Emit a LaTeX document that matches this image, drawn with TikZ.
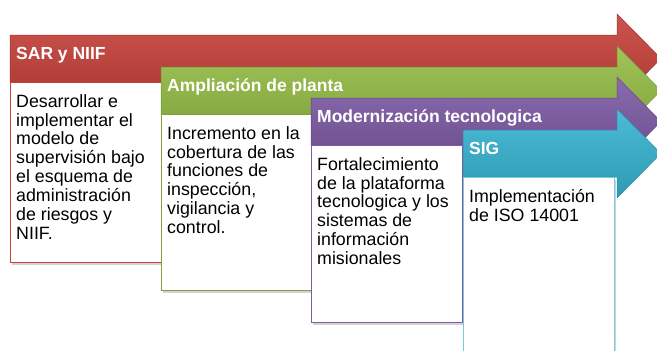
\documentclass[tikz,border=0pt]{standalone}
\usepackage{fontspec}
\setmainfont{Liberation Sans}
\usetikzlibrary{shadows}

\definecolor{sarred}{HTML}{C8413A}
\definecolor{plantgreen}{HTML}{96BE46}
\definecolor{modpurple}{HTML}{7D5AA5}
\definecolor{sigcyan}{HTML}{37B4D2}

\begin{document}
\begin{tikzpicture}[
    x=1pt, y=-1pt,
    band/.style={top color=#1!90!white, middle color=#1, bottom color=#1!85!black, draw=#1!80!black, line width=0.5pt},
    box/.style={rectangle, draw=#1, line width=1.1pt, fill=white, anchor=north west, minimum width=151, inner sep=0pt,
        drop shadow={opacity=0.35, shadow xshift=1.5pt, shadow yshift=-2pt}},
    title/.style={anchor=north west, inner sep=0pt, text height=12.6pt, text=white, font=\fontsize{17.5}{20}\selectfont\bfseries},
    body/.style={anchor=north west, inner sep=0pt, align=left, font=\fontsize{17.8}{18.9}\selectfont}
]
\useasboundingbox (0,0) rectangle (657,351);

% SAR y NIIF
\path[band=sarred] (10,35) -- (617,35) -- (617,14) -- (661,58.5) -- (617,103) -- (617,82) -- (10,82) -- cycle;
\node[title] (sar_title) at (16,47) {SAR y NIIF};
\node[box=sarred, minimum height=180] (sar_box) at (10,82) {};
\node[body] (sar_text) at (16,94) {Desarrollar e\\implementar el\\modelo de\\supervisión bajo\\el esquema de\\administración\\de riesgos y\\NIIF.};

% Ampliacion de planta
\path[band=plantgreen] (161,67) -- (617,67) -- (617,46) -- (661,90.5) -- (617,135) -- (617,114) -- (161,114) -- cycle;
\node[title] (plant_title) at (167,79) {Ampliación de planta};
\node[box=plantgreen!85!black, minimum height=176] (plant_box) at (161,114) {};
\node[body] (plant_text) at (167,126) {Incremento en la\\cobertura de las\\funciones de\\inspección,\\vigilancia y\\control.};

% Modernizacion tecnologica
\path[band=modpurple] (311,98) -- (617,98) -- (617,77) -- (661,121.5) -- (617,166) -- (617,145) -- (311,145) -- cycle;
\node[title] (mod_title) at (317,110) {Modernización tecnologica};
\node[box=modpurple, minimum height=177] (mod_box) at (311,145) {};
\node[body] (mod_text) at (317,157) {Fortalecimiento\\de la plataforma\\tecnologica y los\\sistemas de\\información\\misionales};

% SIG
\path[band=sigcyan] (463,130) -- (617,130) -- (617,109) -- (661,153.5) -- (617,198) -- (617,177) -- (463,177) -- cycle;
\node[title] (sig_title) at (469,142) {SIG};
\node[box=sigcyan!70!white, minimum height=190] (sig_box) at (463,177) {};
\node[body] (sig_text) at (469,189) {Implementación\\de ISO 14001};

\end{tikzpicture}
\end{document}
